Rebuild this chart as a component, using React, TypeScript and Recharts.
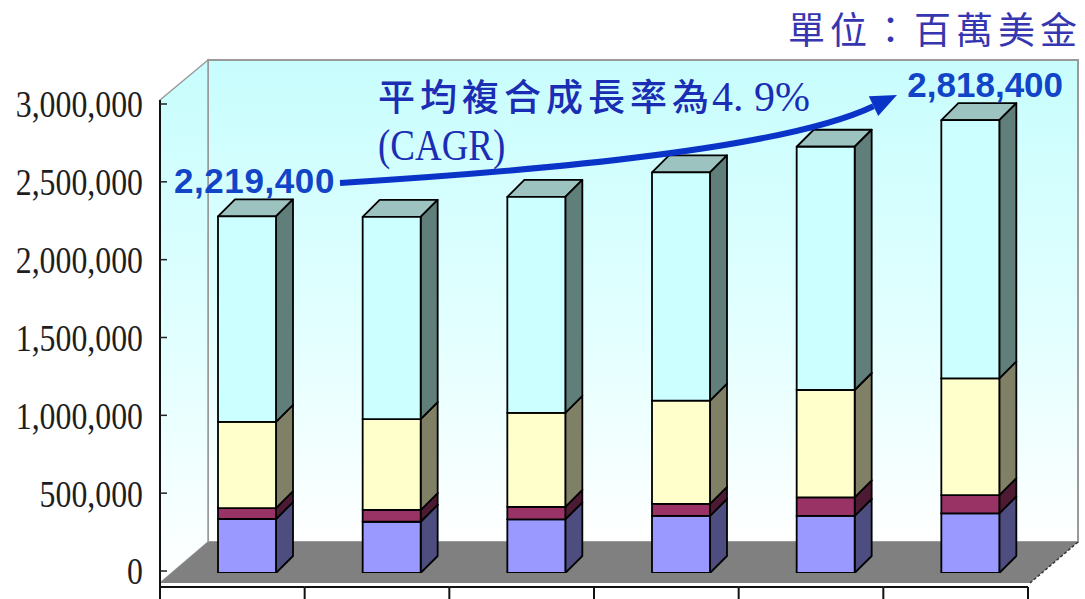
import { Bar, BarChart, LabelList, XAxis, YAxis } from 'recharts';

// values in millions of USD, stacked bottom -> top
const categories = ['2006', '2007', '2008', '2009', '2010', '2011'];
const blueValues = [336000, 319000, 334000, 355000, 355000, 371000];
const maroonValues = [68000, 73000, 78000, 75000, 116000, 114000];
const yellowValues = [537000, 566000, 585000, 643000, 668000, 726000];
const cyanValues = [1278400, 1259000, 1344000, 1421000, 1514000, 1607400];
const yTicks = [0, 500000, 1000000, 1500000, 2000000, 2500000, 3000000];

const unitText = '單位：百萬美金';
const cagrText = '平均複合成長率為';
const cagrValue = '4. 9%';
const cagrNote = '(CAGR)';

const W = 1085;
const H = 599;
const PLOT_LEFT = 175;
const PLOT_RIGHT = 1043;
const PLOT_TOP = 91;
const PLOT_BOTTOM = 573;
const BAND = (PLOT_RIGHT - PLOT_LEFT) / categories.length;
const DEPTH = 17;
// front plane of the 3d box relative to the bar plane
const FRONT_DX = -15;
const FRONT_DY = 10;

const totals = categories.map(
  (_, i) => blueValues[i] + maroonValues[i] + yellowValues[i] + cyanValues[i],
);

const data = categories.map((name, i) => ({
  name,
  blue: blueValues[i],
  maroon: maroonValues[i],
  yellow: yellowValues[i],
  cyan: cyanValues[i],
  labelText:
    i === 0 || i === categories.length - 1 ? totals[i].toLocaleString('en-US') : '',
}));

const series = [
  { key: 'blue', face: '#9999ff', side: '#4d4d80', top: '#7373bf' },
  { key: 'maroon', face: '#993366', side: '#4d1a33', top: '#73264d' },
  { key: 'yellow', face: '#ffffcc', side: '#808066', top: '#bfbf99' },
  { key: 'cyan', face: '#ccffff', side: '#607f7b', top: '#9cc3bf' },
];

function Box3D(props: any) {
  const { x, y, width: w, height: h, face, side, top } = props;
  if (w == null || h == null || h <= 0) return null;
  const d = DEPTH;
  const line = { stroke: '#000', strokeWidth: 1.8, strokeLinejoin: 'round' as const };
  return (
    <g>
      <polygon
        points={`${x},${y} ${x + d},${y - d} ${x + w + d},${y - d} ${x + w},${y}`}
        fill={top}
        {...line}
      />
      <polygon
        points={`${x + w},${y} ${x + w + d},${y - d} ${x + w + d},${y + h - d} ${x + w},${y + h}`}
        fill={side}
        {...line}
      />
      <rect x={x} y={y} width={w} height={h} fill={face} {...line} />
    </g>
  );
}

// value ticks sit on the front-left edge of the box, only y comes from the scale
function FrontValueTick(props: any) {
  const { y, payload } = props;
  const ax = PLOT_LEFT + FRONT_DX;
  return (
    <g>
      <line x1={ax} y1={y} x2={ax + 7} y2={y} stroke="#222" strokeWidth={1.5} />
      <text
        transform={`translate(${ax - 17},${y}) scale(0.86,1)`}
        textAnchor="end"
        dy="0.36em"
        fontFamily="'Liberation Serif', serif"
        fontSize={37}
        fill="#1e1e1e"
      >
        {Number(payload.value).toLocaleString('en-US')}
      </text>
    </g>
  );
}

function FrontCategoryTick(props: any) {
  const { x, index } = props;
  const left = x - BAND / 2 + FRONT_DX;
  const ay = PLOT_BOTTOM + FRONT_DY + 4;
  return (
    <g stroke="#111" strokeWidth={2}>
      <line x1={left} y1={ay} x2={left + BAND} y2={ay} />
      <line x1={left} y1={ay} x2={left} y2={H} />
      {index === categories.length - 1 && (
        <line x1={left + BAND} y1={ay} x2={left + BAND} y2={H} />
      )}
    </g>
  );
}

function TotalLabel(props: any) {
  const { x, y, value } = props;
  if (!value) return null;
  const first = x < W / 2;
  return (
    <text
      x={first ? x + 117 : x - 34}
      y={y - 23}
      textAnchor={first ? 'end' : 'start'}
      fontFamily="'Liberation Sans', Arial, sans-serif"
      fontWeight="bold"
      fontSize={35}
      letterSpacing={first ? 0.6 : 0}
      fill="#1244c8"
    >
      {value}
    </text>
  );
}

function Backdrop() {
  return (
    <svg width={W} height={H} style={{ position: 'absolute', left: 0, top: 0 }}>
      <defs>
        <linearGradient id="wall" x1="0" y1="0" x2="0" y2="1">
          <stop offset="0" stopColor="#c8fdfd" />
          <stop offset="0.55" stopColor="#e2ffff" />
          <stop offset="1" stopColor="#ffffff" />
        </linearGradient>
      </defs>
      <rect x={208} y={60} width={870} height={482} fill="url(#wall)" stroke="#9a9a9a" strokeWidth={2} />
      <polygon points="160,100 208,60 208,542 160,583" fill="url(#wall)" stroke="#9a9a9a" strokeWidth={1.5} />
      <polygon points="160,583 208,542 1078,542 1030,583" fill="#808080" />
      <line x1={1030} y1={583} x2={1078} y2={542} stroke="#333" strokeWidth={1.5} strokeDasharray="3 2" />
      <line x1={160} y1={100} x2={160} y2={H} stroke="#111" strokeWidth={2} />
    </svg>
  );
}

function Annotations() {
  return (
    <svg
      width={W}
      height={H}
      style={{ position: 'absolute', left: 0, top: 0, pointerEvents: 'none' }}
    >
      <text
        x={788}
        y={44}
        fontFamily="'Noto Sans CJK TC', sans-serif"
        fontSize={37}
        letterSpacing={5}
        fill="#3636b0"
      >
        {unitText}
      </text>
      <text x={378} y={111} fill="#1a2db4">
        <tspan
          fontFamily="'Noto Sans CJK TC', sans-serif"
          fontSize={37}
          fontWeight={500}
          letterSpacing={5}
        >
          {cagrText}
        </tspan>
        <tspan fontFamily="'Liberation Serif', serif" fontSize={42} dx={-2}>
          {cagrValue}
        </tspan>
      </text>
      <text
        transform="translate(378,160) scale(0.84,1)"
        fontFamily="'Liberation Serif', serif"
        fontSize={44}
        fill="#1a2db4"
      >
        {cagrNote}
      </text>
      <path
        d="M340,183 Q767,157 873.5,106.2"
        fill="none"
        stroke="#0a34c8"
        strokeWidth={6}
      />
      <polygon points="897,95 878.2,116.1 868.8,96.3" fill="#0a34c8" />
    </svg>
  );
}

export default function App() {
  return (
    <div style={{ position: 'absolute', left: 0, top: 0, width: W, height: H, background: '#fff' }}>
      <Backdrop />
      <div style={{ position: 'absolute', left: 0, top: 0 }}>
        <BarChart
          width={W}
          height={H}
          data={data}
          margin={{ top: PLOT_TOP, right: W - PLOT_RIGHT, left: 0, bottom: 0 }}
        >
          <XAxis
            dataKey="name"
            height={H - PLOT_BOTTOM}
            axisLine={false}
            tickLine={false}
            tickSize={0}
            interval={0}
            tick={<FrontCategoryTick />}
          />
          <YAxis
            yAxisId="front"
            width={PLOT_LEFT}
            type="number"
            domain={[-12850, 3083500]}
            allowDataOverflow
            ticks={yTicks}
            axisLine={false}
            tickLine={false}
            tickSize={0}
            tickMargin={0}
            tick={<FrontValueTick />}
          />
          <YAxis yAxisId="bars" hide type="number" domain={[0, 3000000]} allowDataOverflow />
          {series.map((s) => (
            <Bar
              key={s.key}
              yAxisId="bars"
              dataKey={s.key}
              stackId="total"
              barSize={58}
              isAnimationActive={false}
              shape={(p: any) => <Box3D {...p} face={s.face} side={s.side} top={s.top} />}
            >
              {s.key === 'cyan' && (
                <LabelList dataKey="labelText" content={<TotalLabel />} />
              )}
            </Bar>
          ))}
        </BarChart>
      </div>
      <Annotations />
    </div>
  );
}
